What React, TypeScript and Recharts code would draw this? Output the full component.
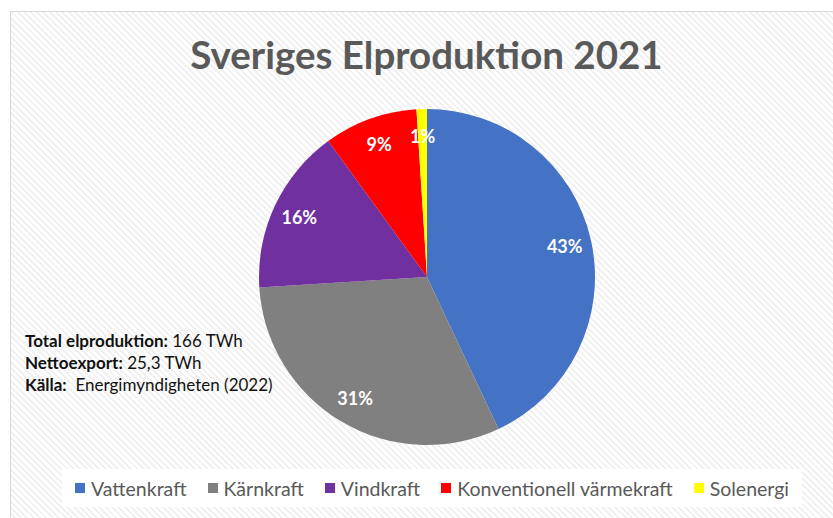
import { PieChart, Pie, Cell, Legend } from "recharts";

const categories = ["Vattenkraft", "Kärnkraft", "Vindkraft", "Konventionell värmekraft", "Solenergi"];
const shares = [43, 31, 16, 9, 1];
const colors = ["#4472C4", "#808080", "#7030A0", "#FF0000", "#FFFF00"];

const infoLines = [
  { label: "Total elproduktion:", value: "166 TWh" },
  { label: "Nettoexport:", value: "25,3 TWh" },
  { label: "Källa:", value: " Energimyndigheten (2022)" },
];

const data = categories.map((name, i) => ({ name, value: shares[i] }));

const RAD = Math.PI / 180;

const renderLabel = (p: any) => {
  const r = p.outerRadius * 0.84;
  const x = p.cx + r * Math.cos(-p.midAngle * RAD);
  const y = p.cy + r * Math.sin(-p.midAngle * RAD);
  return (
    <text x={x} y={y} fill="#fff" fontSize={18} fontWeight={700} textAnchor="middle" dominantBaseline="central" fontFamily="Lato, sans-serif">
      {`${p.value}%`}
    </text>
  );
};

const renderLegend = () => (
  <div
    style={{
      display: "flex",
      justifyContent: "center",
      gap: 21,
      background: "#fff",
      margin: "0 0 0 62px",
      width: 740,
      height: 38,
      alignItems: "center",
      fontFamily: "Lato, sans-serif",
      fontSize: 19.5,
      color: "#595959",
    }}
  >
    {data.map((d, i) => (
      <span key={d.name} style={{ display: "flex", alignItems: "center" }}>
        <span style={{ width: 10, height: 10, background: colors[i], marginRight: 6, display: "inline-block" }} />
        {d.name}
      </span>
    ))}
  </div>
);

export default function App() {
  return (
    <div style={{ position: "absolute", left: 0, top: 0, width: 833, height: 518, background: "#fff", overflow: "hidden" }}>
      <div
        style={{
          position: "absolute",
          left: 10,
          top: 11,
          width: 840,
          height: 520,
          border: "1px solid #d9d9d9",
          background: "repeating-linear-gradient(45deg, #ffffff 0px, #ffffff 2.5px, #f1f1f1 2.5px, #f1f1f1 4.5px)",
        }}
      />
      <div
        style={{
          position: "absolute",
          left: 0,
          width: 853,
          top: 31,
          textAlign: "center",
          fontFamily: "Lato, sans-serif",
          fontWeight: 700,
          fontSize: 38.5,
          color: "#595959",
        }}
      >
        Sveriges Elproduktion 2021
      </div>
      <div style={{ position: "absolute", left: 25, top: 330, fontFamily: "Lato, sans-serif", fontSize: 17, lineHeight: "22px", color: "#111" }}>
        {infoLines.map((l) => (
          <div key={l.label} style={{ whiteSpace: "pre" }}>
            <b>{l.label}</b> {l.value}
          </div>
        ))}
      </div>
      <div style={{ position: "absolute", left: 0, top: 0 }}>
        <PieChart width={853} height={518} margin={{ top: 0, right: 0, bottom: 0, left: 0 }}>
          <Pie
            data={data}
            dataKey="value"
            nameKey="name"
            cx={427}
            cy={277}
            outerRadius={168}
            startAngle={90}
            endAngle={-270}
            stroke="none"
            label={renderLabel}
            labelLine={false}
            isAnimationActive={false}
          >
            {data.map((d, i) => (
              <Cell key={d.name} fill={colors[i]} />
            ))}
          </Pie>
          <Legend content={renderLegend} verticalAlign="bottom" wrapperStyle={{ left: 0, top: 469, width: 853 }} />
        </PieChart>
      </div>
    </div>
  );
}
